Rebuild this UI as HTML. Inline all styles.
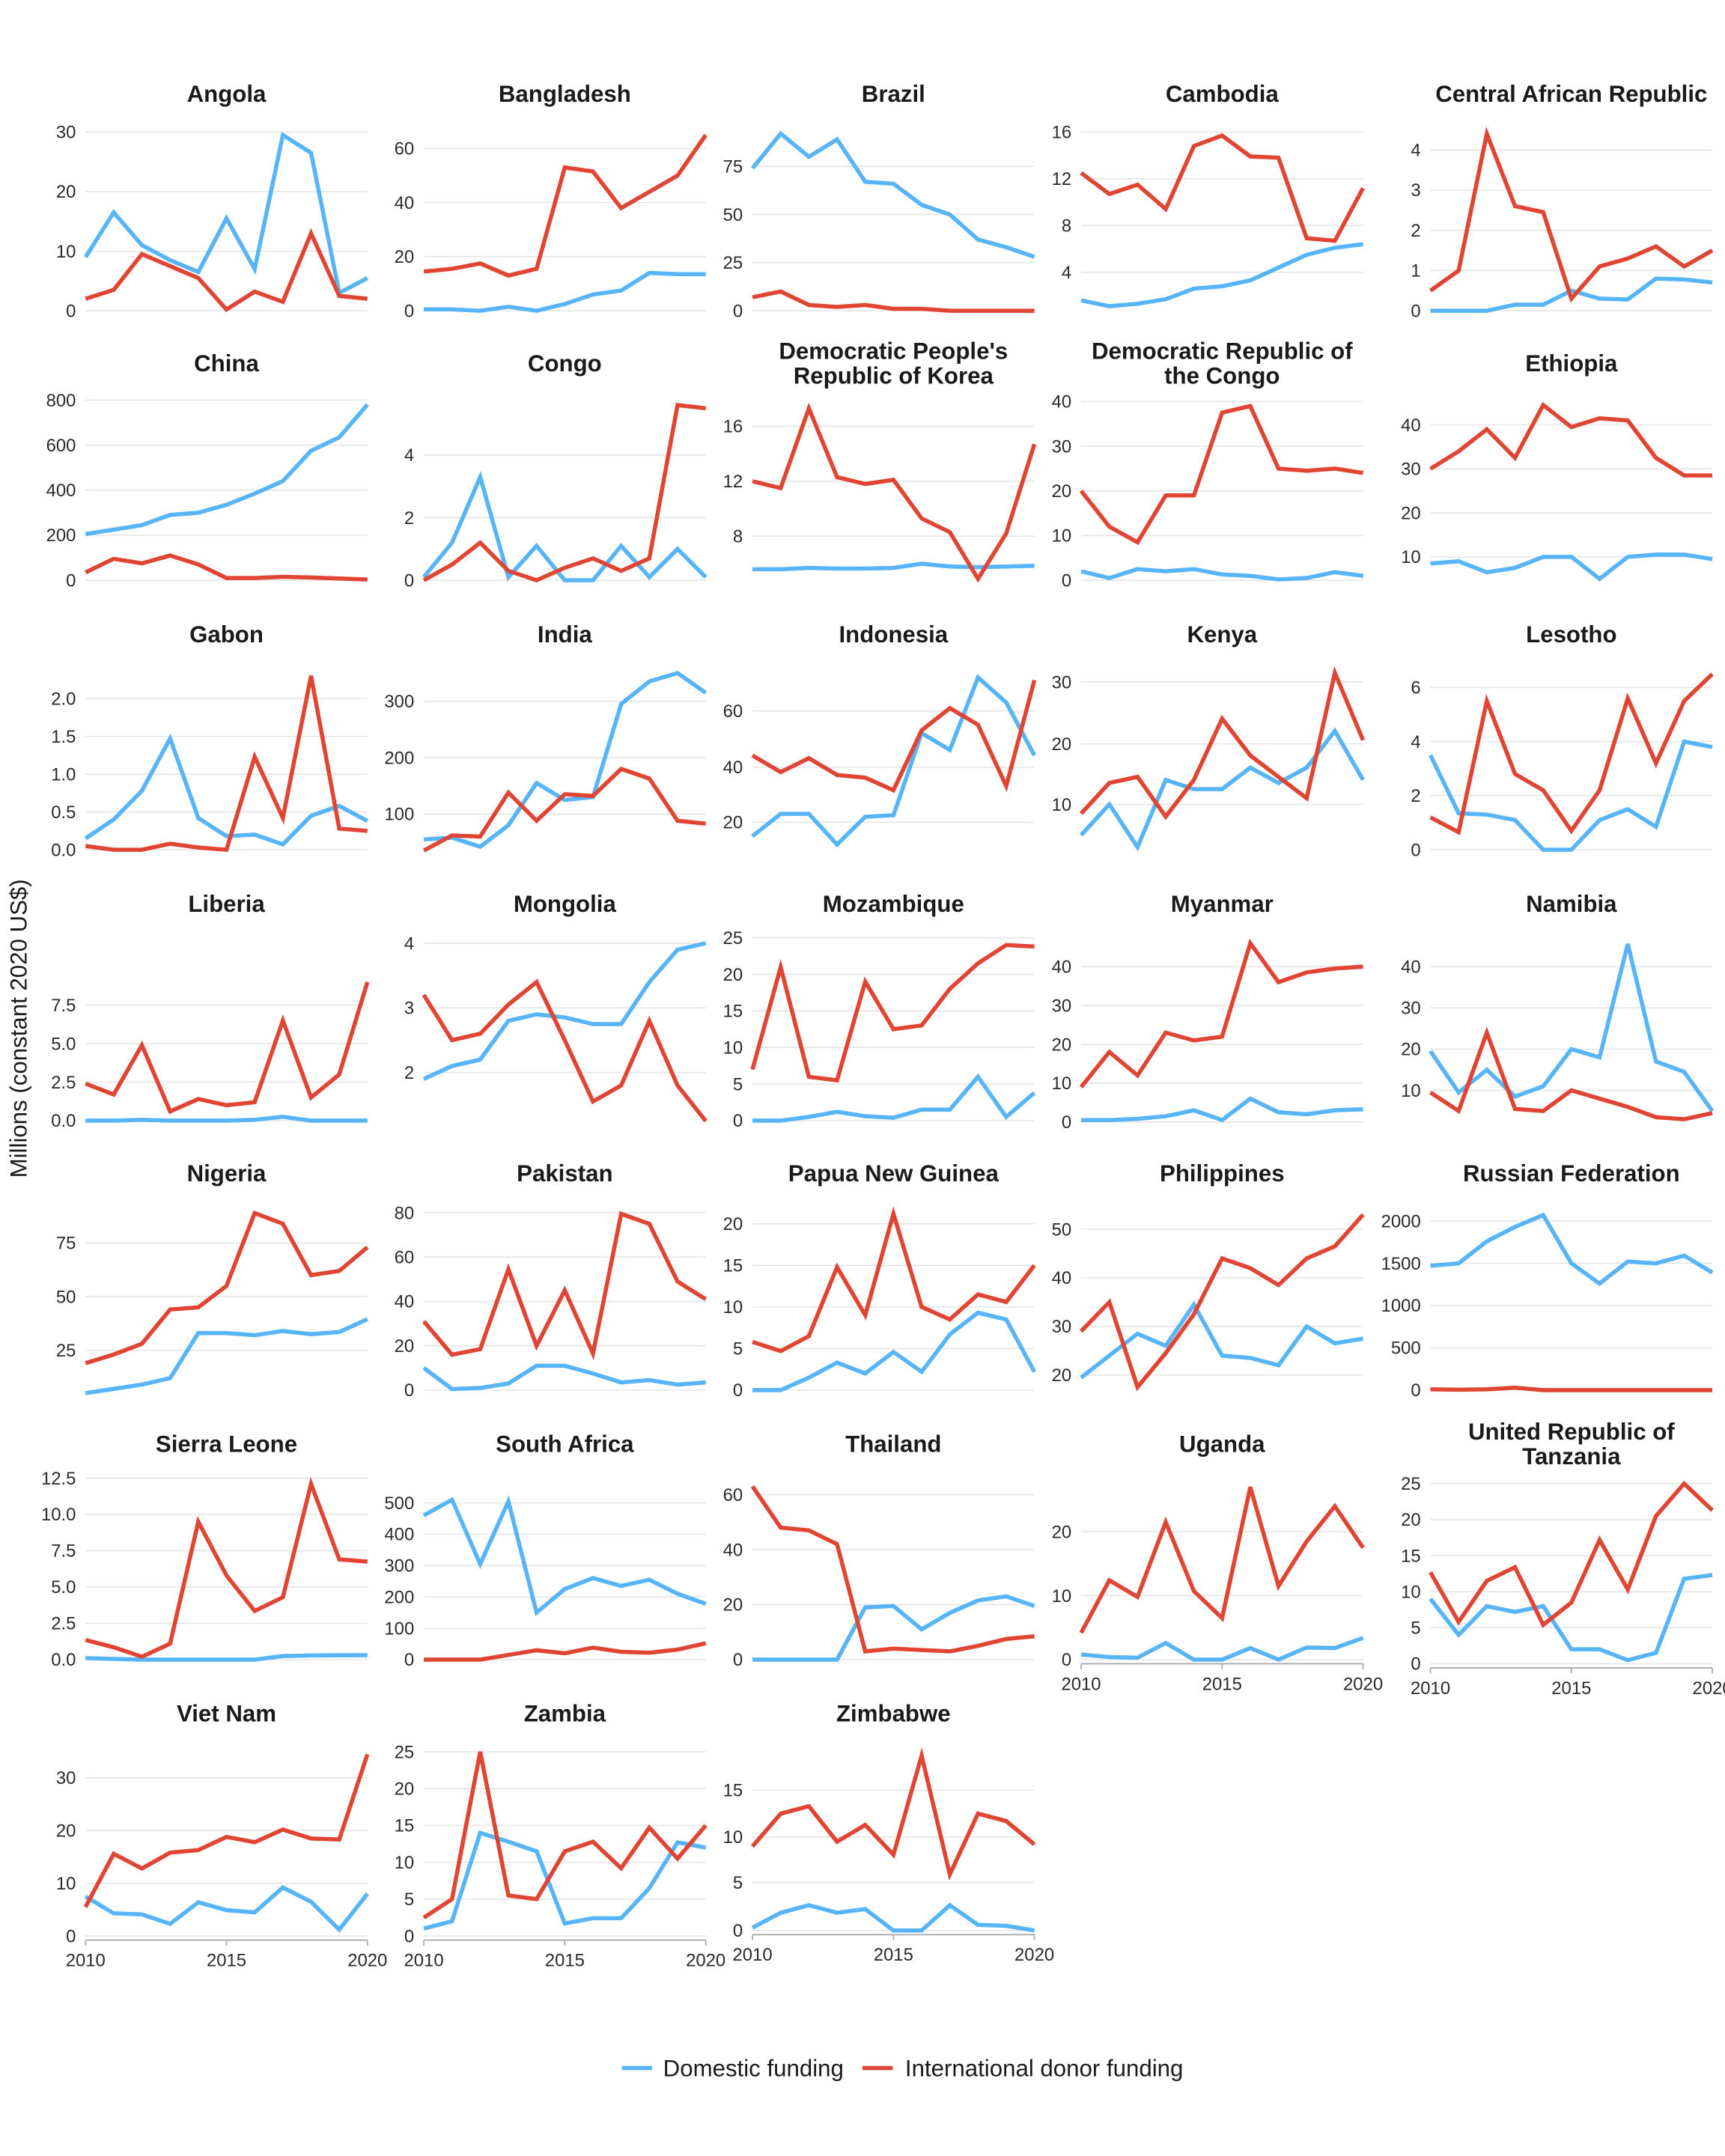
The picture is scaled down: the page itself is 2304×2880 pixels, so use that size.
<!DOCTYPE html>
<html><head><meta charset="utf-8"><style>
html,body{margin:0;padding:0;background:#fff;}
svg{display:block;}
</style></head><body>
<svg id="s" xmlns="http://www.w3.org/2000/svg" width="2304" height="2880" viewBox="0 0 1254 1568" font-family="Liberation Sans, Arial, sans-serif"></svg>
<script>
var B="#56b4f7",R="#e04433";
var cols=[[62,267],[308,513],[547,752],[786,991],[1040,1245]];
var rowT=[68,264,461,657,853,1050,1246];
var P=[
["Angola",0,0,[[0,226],[10,182.7],[20,139.3],[30,96]],[9,16.5,11,8.5,6.5,15.5,7,29.5,26.5,3,5.5],[2,3.5,9.5,7.5,5.5,0.2,3.2,1.5,13,2.5,2]],
["Bangladesh",1,0,[[0,226],[20,186.7],[40,147.3],[60,108]],[0.5,0.5,0,1.5,0,2.5,6,7.5,14,13.5,13.5],[14.5,15.5,17.5,13,15.5,53,51.5,38,44,50,65]],
["Brazil",2,0,[[0,226],[25,191],[50,156],[75,121]],[74,92,80,89,67,66,55,50,37,33,28],[7,10,3,2,3,1,1,0,0,0,0]],
["Cambodia",3,0,[[4,198],[8,164],[12,130],[16,96]],[1.6,1.1,1.3,1.7,2.6,2.8,3.3,4.4,5.5,6.1,6.4],[12.5,10.7,11.5,9.4,14.8,15.7,13.9,13.8,6.9,6.7,11.2]],
["Central African Republic",4,0,[[0,226],[1,196.75],[2,167.5],[3,138.25],[4,109]],[0,0,0,0.15,0.15,0.5,0.3,0.28,0.8,0.78,0.7],[0.5,1,4.4,2.6,2.45,0.3,1.1,1.3,1.6,1.1,1.5]],
["China",0,1,[[0,422],[200,389.25],[400,356.5],[600,323.75],[800,291]],[205,225,245,290,300,335,385,440,575,635,780],[35,95,75,110,70,10,10,15,12,8,3]],
["Congo",1,1,[[0,422],[2,376.5],[4,331]],[0.1,1.2,3.3,0.1,1.1,0,0,1.1,0.1,1,0.1],[0,0.5,1.2,0.3,0,0.4,0.7,0.3,0.7,5.6,5.5]],
["Democratic People's|Republic of Korea",2,1,[[8,390],[12,350],[16,310]],[5.6,5.6,5.7,5.65,5.65,5.7,6,5.8,5.75,5.8,5.85],[12,11.5,17.3,12.3,11.8,12.1,9.3,8.3,4.9,8.2,14.7]],
["Democratic Republic of|the Congo",3,1,[[0,422],[10,389.5],[20,357],[30,324.5],[40,292]],[2,0.5,2.5,2,2.5,1.3,1,0.2,0.5,1.8,1],[20,12,8.5,19,19,37.5,39,25,24.5,25,24]],
["Ethiopia",4,1,[[10,405],[20,373],[30,341],[40,309]],[8.5,9,6.5,7.5,10,10,5,10,10.5,10.5,9.5],[30,34,39,32.5,44.5,39.5,41.5,41,32.5,28.5,28.5]],
["Gabon",0,2,[[0,618],[0.5,590.5],[1,563],[1.5,535.5],[2,508]],[.15,.4,.78,1.47,.42,.18,.2,.07,.45,.58,.38],[.05,0,0,.08,.03,0,1.23,.42,2.3,.28,.25],["0.0","0.5","1.0","1.5","2.0"]],
["India",1,2,[[100,592],[200,551],[300,510]],[55,58,42,80,155,125,130,295,335,350,315],[35,62,60,138,88,135,132,180,163,88,83]],
["Indonesia",2,2,[[20,598],[40,558],[60,517]],[15,23,23,12,22,22.5,52,46,72,63,44],[44,38,43,37,36,31.5,53,61,55,33,71]],
["Kenya",3,2,[[10,585],[20,541],[30,496]],[5,10,3,14,12.5,12.5,16,13.5,16,22,14],[8.5,13.5,14.5,8,14,24,18,14.5,11,31.5,20.5]],
["Lesotho",4,2,[[0,618],[2,578.7],[4,539.3],[6,500]],[3.5,1.35,1.3,1.1,0,0,1.1,1.5,0.85,4,3.8],[1.2,0.65,5.5,2.8,2.2,0.7,2.2,5.6,3.2,5.5,6.5]],
["Liberia",0,3,[[0,815],[2.5,787],[5,759],[7.5,731]],[0,0,0.05,0,0,0,0.05,0.25,0,0,0],[2.4,1.7,4.9,0.6,1.4,1,1.2,6.5,1.5,3,9],["0.0","2.5","5.0","7.5"]],
["Mongolia",1,3,[[2,780],[3,733],[4,686]],[1.9,2.1,2.2,2.8,2.9,2.85,2.75,2.75,3.4,3.9,4],[3.2,2.5,2.6,3.05,3.4,2.5,1.55,1.8,2.8,1.8,1.25]],
["Mozambique",2,3,[[0,815],[5,788.4],[10,761.8],[15,735.2],[20,708.6],[25,682]],[0,0,0.5,1.2,0.6,0.4,1.5,1.5,6,0.5,3.8],[7,21,6,5.5,19,12.5,13,18,21.5,24,23.8]],
["Myanmar",3,3,[[0,816],[10,787.75],[20,759.5],[30,731.25],[40,703]],[0.5,0.5,0.8,1.5,3,0.5,6,2.5,2,3,3.3],[9,18,12,23,21,22,46,36,38.5,39.5,40]],
["Namibia",4,3,[[10,793],[20,763],[30,733],[40,703]],[19.5,9.5,15,8.5,11,20,18,45.5,17,14.5,5],[9.5,5,24,5.5,5,10,8,6,3.5,3,4.5]],
["Nigeria",0,4,[[25,982],[50,943],[75,904]],[5,7,9,12,33,33,32,34,32.5,33.5,39.5],[19,23,28,44,45,55,89,84,60,62,73]],
["Pakistan",1,4,[[0,1011],[20,978.75],[40,946.5],[60,914.25],[80,882]],[10,0.5,1,3,11,11,7.5,3.5,4.5,2.5,3.5],[31,16,18.5,54.5,20,45,16.5,79.5,75,49,41]],
["Papua New Guinea",2,4,[[0,1011],[5,980.75],[10,950.5],[15,920.25],[20,890]],[0,0,1.5,3.3,2,4.6,2.2,6.7,9.3,8.5,2.2],[5.8,4.7,6.5,14.8,9,21.2,10,8.5,11.5,10.6,15]],
["Philippines",3,4,[[20,1000],[30,964.7],[40,929.3],[50,894]],[19.5,24,28.5,26,34.5,24,23.5,22,30,26.5,27.5],[29,35,17.5,24.5,32.5,44,42,38.5,44,46.5,53]],
["Russian Federation",4,4,[[0,1011],[500,980.25],[1000,949.5],[1500,918.75],[2000,888]],[1470,1500,1760,1930,2070,1500,1260,1520,1500,1590,1390],[10,5,10,30,0,0,0,0,0,0,0]],
["Sierra Leone",0,5,[[0,1207],[2.5,1180.6],[5,1154.2],[7.5,1127.8],[10,1101.4],[12.5,1075]],[.1,.05,0,0,0,0,0,.25,.28,.3,.3],[1.35,.85,.2,1.1,9.5,5.8,3.35,4.3,12.1,6.9,6.75],["0.0","2.5","5.0","7.5","10.0","12.5"]],
["South Africa",1,5,[[0,1207],[100,1184.2],[200,1161.4],[300,1138.6],[400,1115.8],[500,1093]],[460,510,305,505,150,225,260,235,255,210,178],[0,0,0,15,30,20,38,25,22,32,52]],
["Thailand",2,5,[[0,1207],[20,1167],[40,1127],[60,1087]],[0,0,0,0,19,19.5,11,17,21.5,23,19.5],[63,48,47,42,3,4,3.5,3,5,7.5,8.5]],
["Uganda",3,5,[[0,1207],[10,1160.5],[20,1114]],[.8,.4,.3,2.6,0,0,1.8,0,1.9,1.8,3.4],[4.2,12.4,9.8,21.5,10.7,6.5,27,11.5,18.5,24,17.5]],
["United Republic of|Tanzania",4,5,[[0,1210],[5,1183.8],[10,1157.6],[15,1131.4],[20,1105.2],[25,1079]],[9,4,8,7.2,8,2,2,0.5,1.5,11.8,12.3],[12.7,5.8,11.5,13.4,5.4,8.5,17.2,10.3,20.5,25,21.3]],
["Viet Nam",0,6,[[0,1408],[10,1369.7],[20,1331.3],[30,1293]],[7.5,4.3,4.1,2.3,6.4,4.9,4.5,9.2,6.5,1.2,8],[5.5,15.6,12.8,15.8,16.3,18.8,17.8,20.2,18.5,18.3,34.5]],
["Zambia",1,6,[[0,1408],[5,1381.2],[10,1354.4],[15,1327.6],[20,1300.8],[25,1274]],[1,2,14,12.8,11.5,1.7,2.4,2.4,6.5,12.7,12],[2.5,5,25,5.5,5,11.5,12.8,9.2,14.7,10.5,15]],
["Zimbabwe",2,6,[[0,1404],[5,1369],[10,1336],[15,1302]],[.3,1.9,2.7,1.9,2.3,0,0,2.7,0.6,0.5,0],[9,12.5,13.3,9.5,11.3,8.1,18.7,6,12.5,11.7,9.2]]
];
var h="";
var bottom={0:6,1:6,2:6,3:5,4:5};
P.forEach(function(p){
 var c=cols[p[1]],x0=c[0],x1=c[1],tk=p[3];
 var a=tk[0],b=tk[tk.length-1];
 function Y(v){return a[1]+(v-a[0])*(b[1]-a[1])/(b[0]-a[0]);}
 function X(i){return x0+i*(x1-x0)/10;}
 var tt=p[0].split("|"),ty=rowT[p[2]];
 if(tt.length==1) h+='<text x="'+(x0+x1)/2+'" y="'+(ty+6)+'" text-anchor="middle" font-weight="bold" font-size="17" fill="#1a1a1a">'+tt[0].replace("'","&#39;")+'</text>';
 else{h+='<text x="'+(x0+x1)/2+'" y="'+(ty-3)+'" text-anchor="middle" font-weight="bold" font-size="17" fill="#1a1a1a">'+tt[0].replace("'","&#39;")+'</text>';
  h+='<text x="'+(x0+x1)/2+'" y="'+(ty+15)+'" text-anchor="middle" font-weight="bold" font-size="17" fill="#1a1a1a">'+tt[1]+'</text>';}
 tk.forEach(function(t,i){
  var lab=p[5+1]?p[6][i]:String(t[0]);
  h+='<line x1="'+x0+'" x2="'+x1+'" y1="'+t[1]+'" y2="'+t[1]+'" stroke="#e3e3e3" stroke-width="0.8"/>';
  h+='<text x="'+(x0-7)+'" y="'+(t[1]+4.5)+'" text-anchor="end" font-size="13" fill="#2a2a2a">'+lab+'</text>';
 });
 if(bottom[p[1]]==p[2]){
  var yb=a[1]+3;
  h+='<line x1="'+x0+'" x2="'+x1+'" y1="'+yb+'" y2="'+yb+'" stroke="#aaa" stroke-width="1"/>';
  [0,5,10].forEach(function(i){h+='<line x1="'+X(i)+'" x2="'+X(i)+'" y1="'+yb+'" y2="'+(yb+4)+'" stroke="#aaa" stroke-width="1"/>';
   h+='<text x="'+X(i)+'" y="'+(yb+19)+'" text-anchor="middle" font-size="13" fill="#2a2a2a">'+(2010+i)+'</text>';});
 }
 [[p[4],B],[p[5],R]].forEach(function(s){
  var pts=s[0].map(function(v,i){return X(i).toFixed(1)+","+Y(v).toFixed(1);}).join(" ");
  h+='<polyline points="'+pts+'" fill="none" stroke="'+s[1]+'" stroke-width="3" stroke-linejoin="miter"/>';
 });
});
h+='<text transform="translate(19,748) rotate(-90)" text-anchor="middle" font-size="17" fill="#1a1a1a">Millions (constant 2020 US$)</text>';
h+='<line x1="452" x2="474" y1="1504" y2="1504" stroke="'+B+'" stroke-width="3"/><text x="482" y="1510" font-size="17" fill="#1a1a1a">Domestic funding</text>';
h+='<line x1="627" x2="649" y1="1504" y2="1504" stroke="'+R+'" stroke-width="3"/><text x="658" y="1510" font-size="17" fill="#1a1a1a">International donor funding</text>';
document.getElementById("s").innerHTML=h;
</script>
</body></html>
